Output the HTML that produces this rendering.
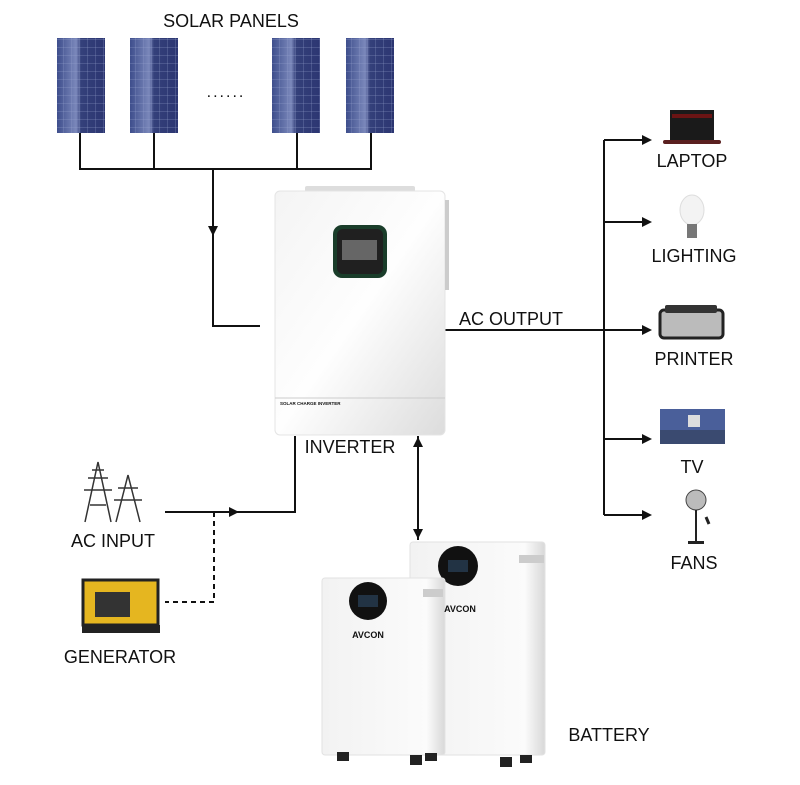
<!DOCTYPE html>
<html><head><style>body{margin:0;background:#fff}svg{display:block}text{font-family:"Liberation Sans",sans-serif;fill:#111}</style></head><body>
<svg width="800" height="785" viewBox="0 0 800 785" xmlns="http://www.w3.org/2000/svg">
<defs>
<linearGradient id="pv" x1="0" x2="1"><stop offset="0" stop-color="#3e4e8c"/><stop offset="0.4" stop-color="#7b88bb"/><stop offset="0.5" stop-color="#34407a"/><stop offset="1" stop-color="#2c3672"/></linearGradient>
<pattern id="grid" width="8" height="8" patternUnits="userSpaceOnUse"><path d="M8 0V8M0 8H8" stroke="#9aa6d0" stroke-width="0.5" fill="none"/></pattern>
<linearGradient id="inv" x1="0" y1="0" x2="1" y2="1"><stop offset="0" stop-color="#f4f4f4"/><stop offset="0.5" stop-color="#fefefe"/><stop offset="1" stop-color="#dcdcdc"/></linearGradient>
<linearGradient id="bat" x1="0" x2="1"><stop offset="0" stop-color="#f2f2f2"/><stop offset="0.85" stop-color="#fbfbfb"/><stop offset="1" stop-color="#d8d8d8"/></linearGradient>
</defs>
<text x="231" y="27" font-size="18" text-anchor="middle">SOLAR PANELS</text>
<g>
<rect x="57" y="38" width="48" height="95" fill="url(#pv)"/><rect x="57" y="38" width="48" height="95" fill="url(#grid)"/>
<rect x="130" y="38" width="48" height="95" fill="url(#pv)"/><rect x="130" y="38" width="48" height="95" fill="url(#grid)"/>
<rect x="272" y="38" width="48" height="95" fill="url(#pv)"/><rect x="272" y="38" width="48" height="95" fill="url(#grid)"/>
<rect x="346" y="38" width="48" height="95" fill="url(#pv)"/><rect x="346" y="38" width="48" height="95" fill="url(#grid)"/>
</g>
<text x="226" y="97" font-size="16" text-anchor="middle" letter-spacing="2">......</text>
<g stroke="#111" stroke-width="2" fill="none">
<path d="M80 133V169H371V133M154 133V169M297 133V169"/>
<path d="M213 169V326H260"/>
<path d="M445 330H650M604 140V515M604 140H650M604 222H650M604 439H650M604 515H650"/>
<path d="M295 436V512H165"/>
<path d="M418 436V540"/>
<path d="M214 512V602H165" stroke-dasharray="5,4"/>
</g>
<path d="M208 226L218 226L213 236Z" fill="#111"/>
<path d="M229 507L239 512L229 517Z" fill="#111"/>
<path d="M413 447L418 437L423 447ZM413 529L418 539L423 529Z" fill="#111"/>
<g fill="#111"><path d="M642 135L652 140L642 145Z"/><path d="M642 217L652 222L642 227Z"/><path d="M642 325L652 330L642 335Z"/><path d="M642 434L652 439L642 444Z"/><path d="M642 510L652 515L642 520Z"/></g>
<rect x="305" y="186" width="110" height="6" rx="2" fill="#ddd"/>
<rect x="275" y="191" width="170" height="244" rx="5" fill="url(#inv)" stroke="#e4e4e4"/>
<rect x="445" y="200" width="4" height="90" fill="#ccc"/>
<line x1="275" y1="398" x2="445" y2="398" stroke="#ccc"/>
<text x="280" y="405" font-size="4.5" font-weight="bold" fill="#555">SOLAR CHARGE INVERTER</text>
<rect x="333" y="225" width="54" height="53" rx="9" fill="#1a3d2a"/>
<rect x="337" y="229" width="46" height="45" rx="6" fill="#202020"/>
<rect x="342" y="240" width="35" height="20" fill="#666"/>
<text x="350" y="453" font-size="18" text-anchor="middle">INVERTER</text>
<text x="511" y="325" font-size="18" text-anchor="middle">AC OUTPUT</text>
<rect x="670" y="110" width="44" height="30" fill="#1a1a1a"/><rect x="672" y="114" width="40" height="4" fill="#6a1414"/><rect x="663" y="140" width="58" height="4" rx="2" fill="#5a2020"/>
<text x="692" y="167" font-size="18" text-anchor="middle">LAPTOP</text>
<ellipse cx="692" cy="210" rx="12" ry="15" fill="#f3f3f3" stroke="#ddd"/><rect x="687" y="224" width="10" height="14" fill="#777"/>
<text x="694" y="262" font-size="18" text-anchor="middle">LIGHTING</text>
<rect x="660" y="310" width="63" height="28" rx="4" fill="#bbb" stroke="#222" stroke-width="3"/><rect x="665" y="305" width="52" height="8" rx="2" fill="#333"/>
<text x="694" y="365" font-size="18" text-anchor="middle">PRINTER</text>
<rect x="660" y="409" width="65" height="35" fill="#4a5f9a"/><rect x="688" y="415" width="12" height="12" fill="#ddd"/><rect x="660" y="430" width="65" height="14" fill="#3a4a70"/>
<text x="692" y="473" font-size="18" text-anchor="middle">TV</text>
<circle cx="696" cy="500" r="10" fill="#bbb" stroke="#444"/><line x1="696" y1="510" x2="696" y2="542" stroke="#222" stroke-width="2"/><rect x="688" y="541" width="16" height="3" fill="#222"/><line x1="706" y1="517" x2="709" y2="524" stroke="#222" stroke-width="3"/>
<text x="694" y="569" font-size="18" text-anchor="middle">FANS</text>
<g stroke="#333" stroke-width="1.5" fill="none"><path d="M85 522L98 462L111 522M88 478H108M84 490H112M90 505L106 505M92 470L104 470"/><path d="M116 522L128 475L140 522M118 488H138M114 500H142"/></g>
<text x="113" y="547" font-size="18" text-anchor="middle">AC INPUT</text>
<rect x="83" y="580" width="75" height="45" fill="#e5b620" stroke="#222" stroke-width="3"/><rect x="95" y="592" width="35" height="25" fill="#333"/><rect x="82" y="625" width="78" height="8" fill="#222"/>
<text x="120" y="663" font-size="18" text-anchor="middle">GENERATOR</text>
<rect x="410" y="542" width="135" height="213" rx="3" fill="url(#bat)" stroke="#e2e2e2"/>
<rect x="519" y="555" width="25" height="8" fill="#ccc"/>
<circle cx="458" cy="566" r="20" fill="#111"/><rect x="448" y="560" width="20" height="12" fill="#234"/>
<rect x="322" y="578" width="123" height="177" rx="3" fill="url(#bat)" stroke="#e2e2e2"/>
<rect x="423" y="589" width="20" height="8" fill="#ccc"/>
<circle cx="368" cy="601" r="19" fill="#111"/><rect x="358" y="595" width="20" height="12" fill="#234"/>
<text x="368" y="638" font-size="9" fill="#d22" text-anchor="middle" font-weight="bold">AVCON</text>
<text x="460" y="612" font-size="9" fill="#d22" text-anchor="middle" font-weight="bold">AVCON</text>
<g fill="#222"><rect x="337" y="752" width="12" height="9"/><rect x="410" y="755" width="12" height="10"/><rect x="425" y="753" width="12" height="8"/><rect x="500" y="757" width="12" height="10"/><rect x="520" y="755" width="12" height="8"/></g>
<text x="609" y="741" font-size="18" text-anchor="middle">BATTERY</text>
</svg>
</body></html>
